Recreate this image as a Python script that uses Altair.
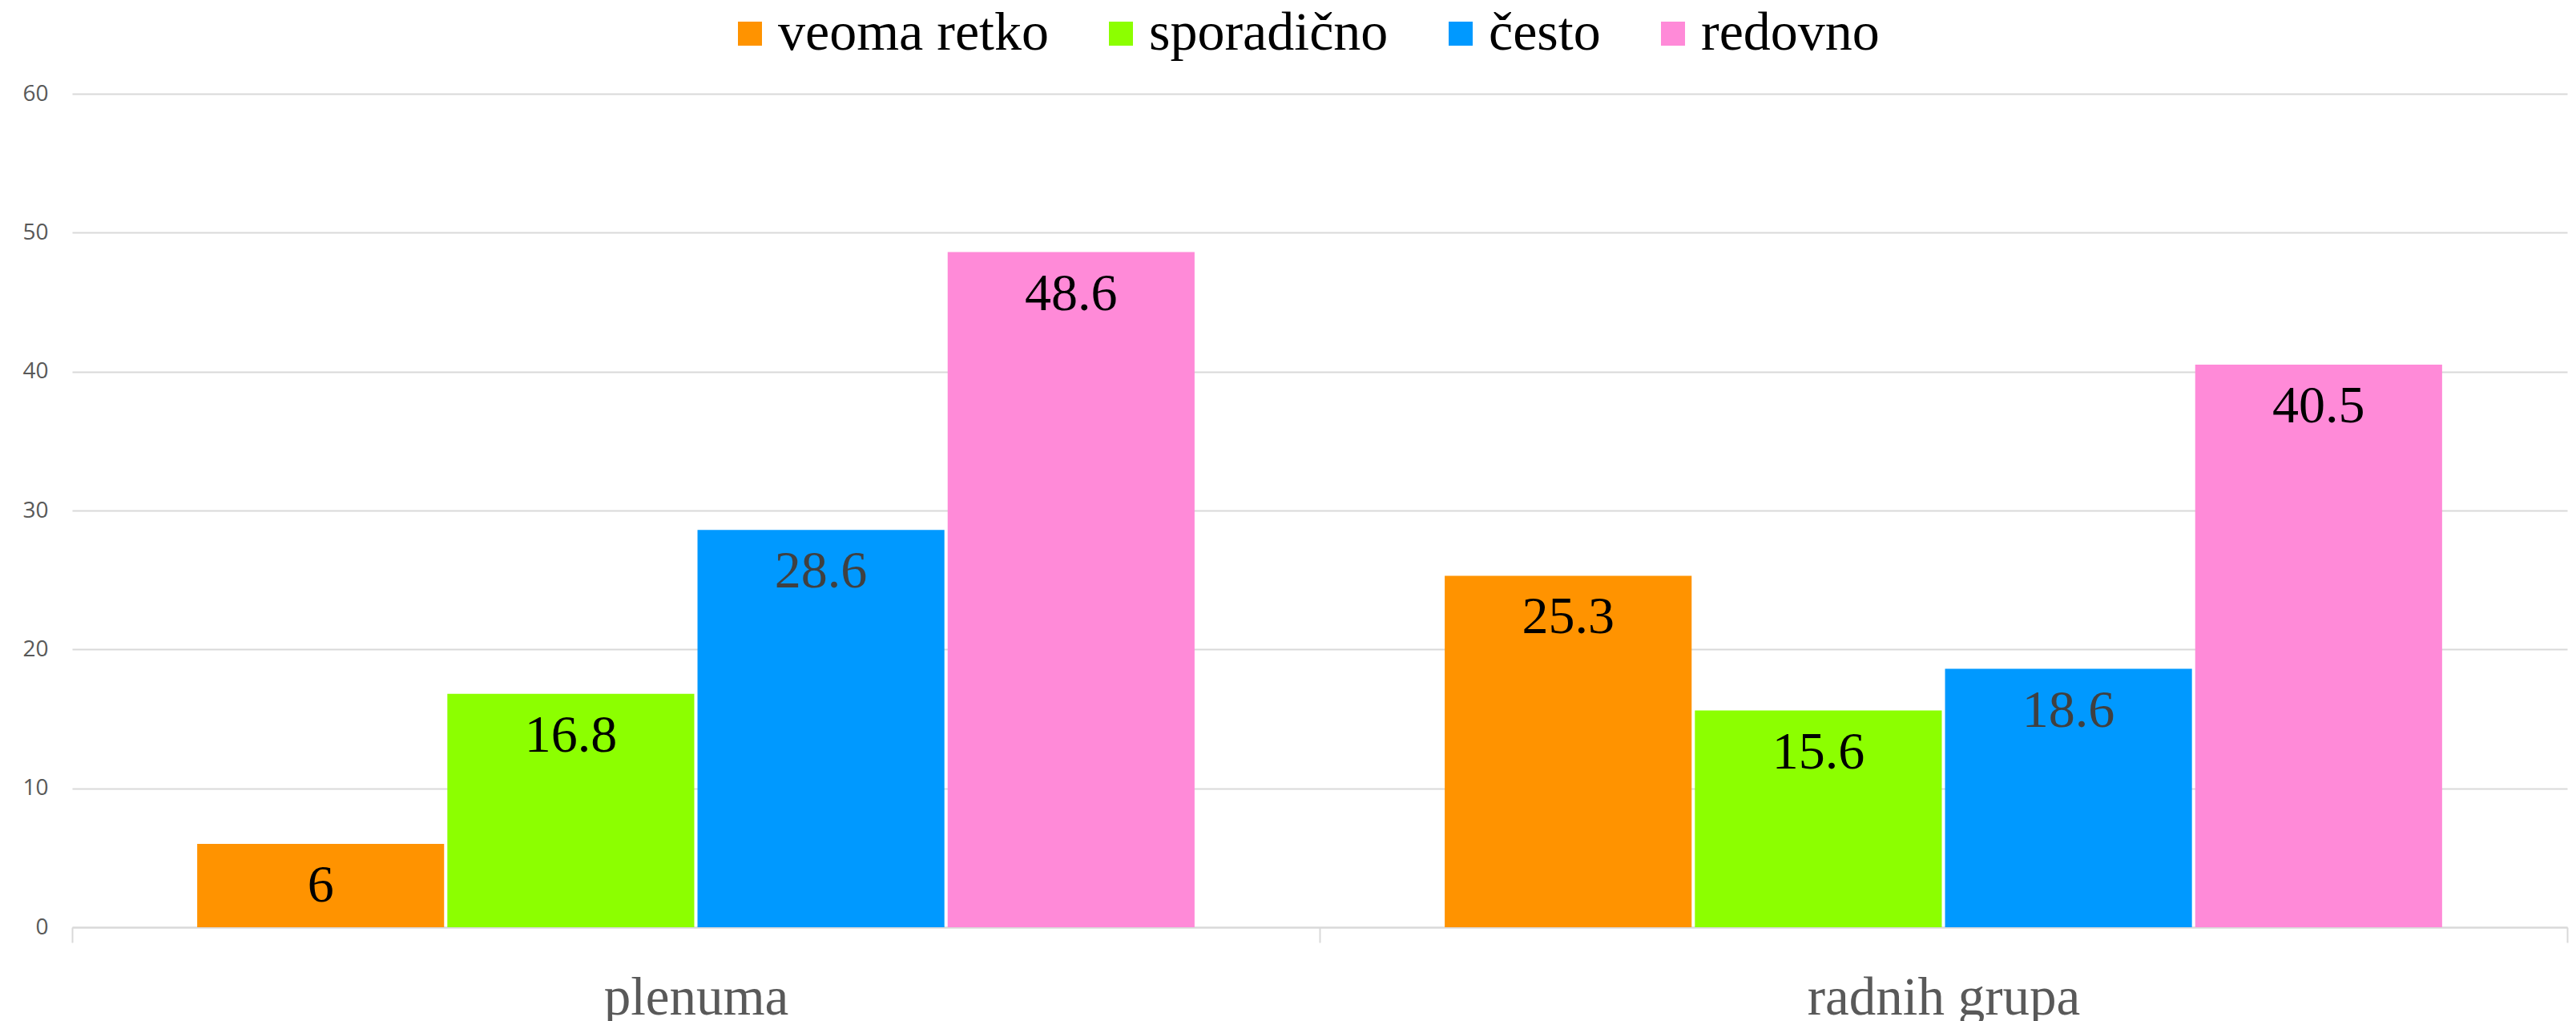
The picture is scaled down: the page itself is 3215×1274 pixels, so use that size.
import altair as alt
import pandas as pd

categories = ["plenuma", "radnih grupa"]
series = ["veoma retko", "sporadično", "često", "redovno"]
veoma_retko = [6, 25.3]
sporadicno = [16.8, 15.6]
cesto = [28.6, 18.6]
redovno = [48.6, 40.5]
colors = ["#FF9300", "#8CFF00", "#0099FF", "#FF8AD8"]
y_ticks = [0, 10, 20, 30, 40, 50, 60]

rows = []
for s, vals in zip(series, [veoma_retko, sporadicno, cesto, redovno]):
    for c, v in zip(categories, vals):
        rows.append({"kategorija": c, "serija": s, "vrednost": v, "lbl": f"{v:g}"})
df = pd.DataFrame(rows)

x_enc = alt.X(
    "kategorija:N",
    sort=categories,
    title=None,
    scale=alt.Scale(paddingInner=0, paddingOuter=0),
    axis=alt.Axis(
        domain=True, domainColor="#d9d9d9", domainWidth=2,
        ticks=True, tickBand="extent", tickColor="#d9d9d9", tickWidth=2, tickSize=19,
        labelFont="Liberation Serif", labelFontSize=67, labelColor="#595959",
        labelBaseline="alphabetic", labelPadding=89, labelAngle=0, labelLimit=1000,
        grid=False,
    ),
)
xo_enc = alt.XOffset("serija:N", sort=series, scale=alt.Scale(paddingInner=0.013, paddingOuter=0.5))

y_axis = alt.Axis(
    values=y_ticks, grid=True, gridColor="#d9d9d9", gridWidth=2,
    domain=False, ticks=False,
    labelFont="Open Sans", labelFontSize=28, labelColor="#595959", labelPadding=30,
)

bars = alt.Chart(df).mark_bar().encode(
    x=x_enc,
    xOffset=xo_enc,
    y=alt.Y("vrednost:Q", title=None, scale=alt.Scale(domain=[0, 60], nice=False), axis=y_axis),
    color=alt.Color(
        "serija:N", sort=series,
        scale=alt.Scale(domain=series, range=colors),
        legend=alt.Legend(
            title=None, orient="none", legendX=812, legendY=-109,
            direction="horizontal", columns=4,
            symbolType="square", symbolSize=900, symbolStrokeWidth=0,
            labelFont="Liberation Serif", labelFontSize=68, labelColor="#000000",
            labelOffset=1, columnPadding=56, labelLimit=1000,
        ),
    ),
)

labels = alt.Chart(df).mark_text(
    baseline="alphabetic", dy=72, font="Liberation Serif", fontSize=66, align="center"
).encode(
    x=x_enc,
    xOffset=xo_enc,
    y=alt.Y("vrednost:Q", title=None, scale=alt.Scale(domain=[0, 60], nice=False), axis=y_axis),
    text="lbl:N",
    color=alt.condition(alt.datum.serija == "često", alt.value("#404040"), alt.value("#000000")),
)

chart = (
    alt.layer(bars, labels)
    .properties(
        width=3114, height=1040,
        autosize=alt.AutoSizeParams(type="none"),
        padding={"left": 82, "top": 109, "right": 3, "bottom": 125},
        background="white",
    )
    .configure_view(stroke=None)
)

chart.save("out.html", embed_options={"renderer": "svg", "actions": False})
